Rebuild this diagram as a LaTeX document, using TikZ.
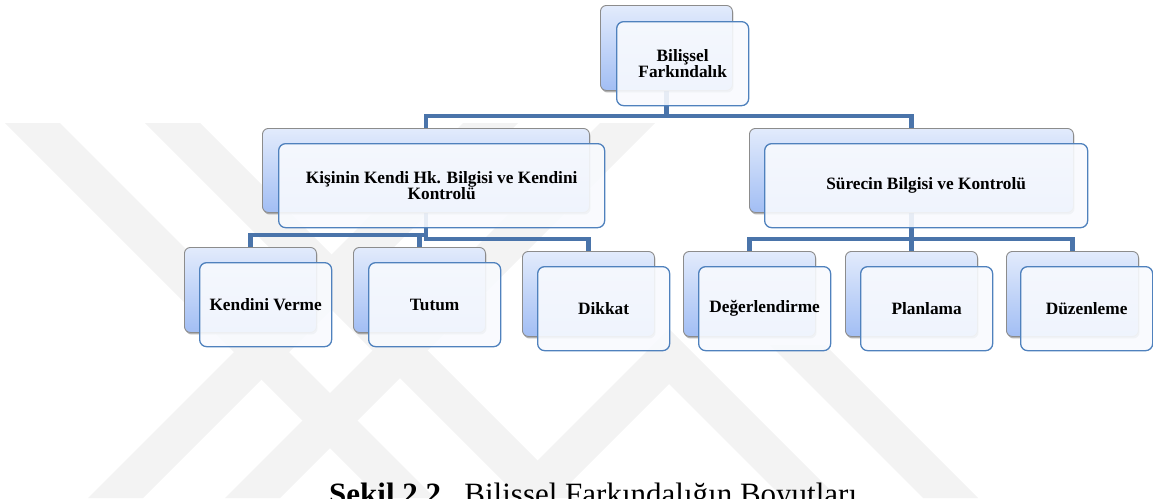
\documentclass[tikz,border=0pt]{standalone}
\usepackage{fontspec}
\setmainfont{Liberation Serif}
\usetikzlibrary{calc,shadows}

\definecolor{connblue}{HTML}{4A74AA}
\definecolor{frontblue}{HTML}{4F81BD}
\definecolor{backtop}{HTML}{E2EBFC}
\definecolor{backbot}{HTML}{A2BEF4}
\definecolor{frontfill}{HTML}{F8FAFE}
\definecolor{backdraw}{HTML}{8C8C8C}
\definecolor{wm}{HTML}{F3F3F3}

\pgfdeclarelayer{wmlayer}
\pgfdeclarelayer{connlayer}
\pgfsetlayers{wmlayer,connlayer,main}

\begin{document}
\begin{tikzpicture}[x=1pt,y=-1pt,
  backbox/.style={draw=backdraw, line width=0.9pt, rounded corners=6pt,
    top color=backtop, bottom color=backbot,
    drop shadow={shadow xshift=1pt, shadow yshift=-2pt, fill=black, opacity=0.3},
    anchor=north west, inner sep=0pt, minimum width=132pt, minimum height=85pt},
  frontbox/.style={draw=frontblue, line width=1.3pt, rounded corners=7pt,
    fill=frontfill, fill opacity=0.9, text opacity=1,
    anchor=north west, inner sep=2pt, align=center,
    minimum width=132pt, minimum height=84pt,
    font=\bfseries\fontsize{17.3}{15.8}\selectfont},
  conn/.style={draw=connblue, line width=4.5pt},
  wmband/.style={fill=wm, draw=none},
  captxt/.style={font=\fontsize{31}{31}\selectfont, anchor=base west, inner sep=0pt}
]
\useasboundingbox (0,0) rectangle (1153,498);
\clip (0,0) rectangle (1153,498);

% faint background watermark
\begin{pgfonlayer}{wmlayer}
  \fill[wmband] (5,123) -- (60,123) -- (435,498) -- (380,498) -- cycle;
  \fill[wmband] (145,123) -- (200,123) -- (575,498) -- (520,498) -- cycle;
  \fill[wmband] (88,498) -- (143,498) -- (518,123) -- (463,123) -- cycle;
  \fill[wmband] (225,498) -- (280,498) -- (655,123) -- (600,123) -- cycle;
  \fill[wmband] (500,498) -- (555,498) -- (669,384) -- (783,498) -- (838,498) -- (669,329) -- cycle;
  \fill[wmband] (770,345) -- (825,345) -- (978,498) -- (923,498) -- cycle;
\end{pgfonlayer}

% back boxes
\node[backbox] (T0) at (600,5) {};
\node[backbox, minimum width=327pt, minimum height=84pt] (L0) at (262,128) {};
\node[backbox, minimum width=324pt, minimum height=84pt] (R0) at (749,128) {};
\node[backbox] (C10) at (184,247) {};
\node[backbox] (C20) at (353,247) {};
\node[backbox] (C30) at (522,251) {};
\node[backbox] (C40) at (683,251) {};
\node[backbox] (C50) at (845,251) {};
\node[backbox] (C60) at (1006,251) {};

% front boxes
\node[frontbox] (T) at (616,21) {Bilişsel\\Farkındalık};
\node[frontbox, minimum width=326pt] (L) at (278,143) {Kişinin Kendi Hk. Bilgisi ve Kendini\\Kontrolü};
\node[frontbox, minimum width=323pt] (R) at (764,143) {Sürecin Bilgisi ve Kontrolü};
\node[frontbox] (C1) at (199,262) {Kendini Verme};
\node[frontbox] (C2) at (368,262) {Tutum};
\node[frontbox] (C3) at (537,266) {Dikkat};
\node[frontbox] (C4) at (698,266) {Değerlendirme};
\node[frontbox] (C5) at (860,266) {Planlama};
\node[frontbox] (C6) at (1020,266) {Düzenleme};

% connectors
\begin{pgfonlayer}{connlayer}
  \foreach \p/\c in {T0/L0, T0/R0, L0/C10, L0/C20, L0/C30, R0/C40, R0/C50, R0/C60}{
    \draw[conn] (\p.south) |- ($(\c.north)+(0,-12)$) -| (\c.north);
  }
\end{pgfonlayer}

% caption (cut by the lower edge, as in the reference)
\node[captxt] (cap) at (329,504) {\textbf{Şekil 2.2.}\ \ Bilişsel Farkındalığın Boyutları};
\end{tikzpicture}
\end{document}
